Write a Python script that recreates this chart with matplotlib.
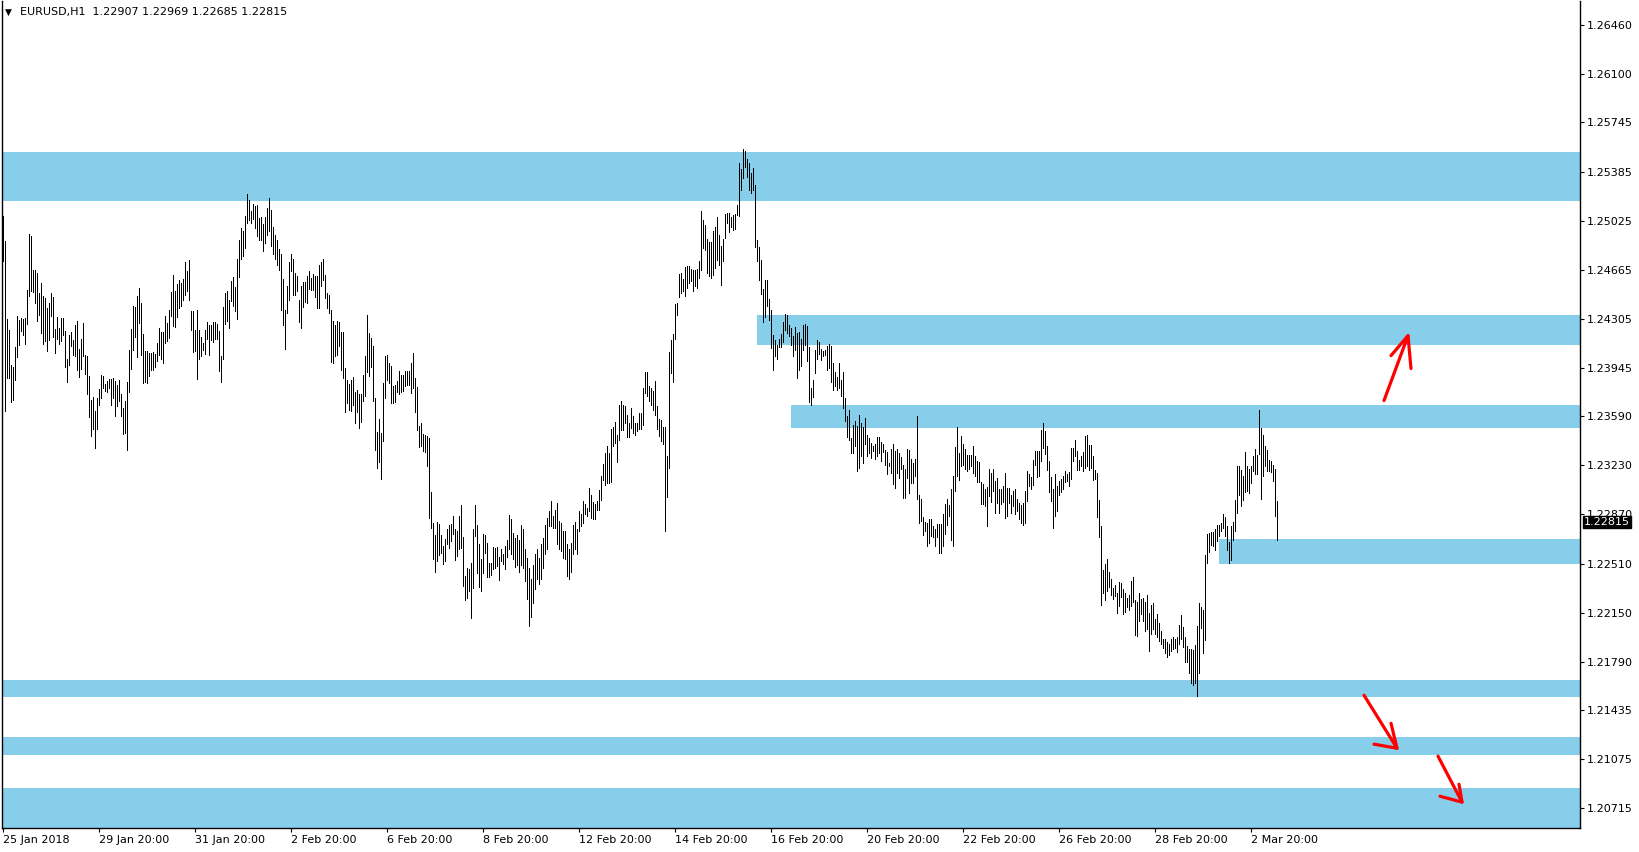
import numpy as np
import matplotlib
matplotlib.use("Agg")
import matplotlib.pyplot as plt
import matplotlib.transforms as mtrans

# EURUSD H1 bars, highs / lows in pips (price * 10000)
# bar 0 = 25 Jan 2018 20:00, one bar per hour (trading hours only)
high_pips = [
    12506.1, 12487.3, 12430.6, 12422.1, 12396.9, 12395.0, 12410.1, 12432.8, 12429.4, 12431.4,  # 0
    12430.4, 12431.1, 12451.9, 12492.9, 12490.9, 12466.5, 12466.5, 12464.3, 12449.7, 12457.0,  # 10
    12447.0, 12445.8, 12438.4, 12441.9, 12449.7, 12446.7, 12422.8, 12431.9, 12423.8, 12430.9,  # 20
    12431.1, 12421.8, 12401.3, 12418.9, 12421.1, 12415.2, 12426.2, 12428.7, 12408.7, 12416.0,  # 30
    12427.7, 12404.3, 12403.5, 12388.9, 12370.6, 12373.5, 12363.2, 12372.5, 12379.3, 12389.4,  # 40
    12388.6, 12382.8, 12384.7, 12386.2, 12386.7, 12387.2, 12384.7, 12382.3, 12385.9, 12375.7,  # 50
    12364.9, 12370.1, 12384.5, 12407.4, 12423.3, 12440.2, 12439.2, 12447.0, 12453.3, 12441.9,  # 60
    12419.6, 12407.2, 12406.7, 12405.5, 12405.5, 12406.0, 12404.7, 12412.6, 12423.8, 12420.9,  # 70
    12420.6, 12432.8, 12427.2, 12437.0, 12449.9, 12462.4, 12450.7, 12455.8, 12459.2, 12456.5,  # 80
    12459.9, 12472.4, 12465.3, 12473.6, 12436.2, 12436.0, 12422.6, 12437.0, 12422.3, 12417.4,  # 90
    12412.8, 12422.1, 12428.2, 12426.2, 12426.2, 12428.2, 12427.9, 12426.7, 12421.4, 12403.5,  # 100
    12438.9, 12449.7, 12450.7, 12444.6, 12458.5, 12461.4, 12453.6, 12474.1, 12488.5, 12497.1,  # 110
    12494.6, 12505.6, 12522.2, 12517.8, 12509.3, 12514.9, 12512.9, 12514.1, 12504.4, 12505.0,  # 120
    12500.0, 12505.0, 12512.0, 12519.0, 12510.0, 12498.0, 12492.0, 12488.0, 12482.0, 12478.0,  # 130
    12459.9, 12437.2, 12454.3, 12472.0, 12478.0, 12474.0, 12464.1, 12462.1, 12444.5, 12454.3,  # 140
    12457.5, 12457.5, 12462.1, 12465.8, 12460.4, 12463.6, 12462.1, 12462.1, 12470.0, 12472.0,  # 150
    12474.0, 12462.8, 12449.4, 12448.2, 12437.2, 12429.1, 12426.2, 12429.1, 12428.2, 12421.1,  # 160
    12420.6, 12394.7, 12385.9, 12383.0, 12385.9, 12387.6, 12377.1, 12378.6, 12375.7, 12375.7,  # 170
    12389.6, 12403.5, 12433.5, 12420.1, 12416.4, 12410.8, 12372.5, 12347.3, 12357.3, 12346.4,  # 180
    12383.5, 12403.5, 12404.2, 12398.1, 12395.7, 12381.5, 12382.3, 12385.2, 12392.5, 12389.6,  # 190
    12389.6, 12392.0, 12392.0, 12392.5, 12398.1, 12405.4, 12387.4, 12380.8, 12352.2, 12354.2,  # 200
    12345.9, 12345.1, 12344.4, 12343.4, 12303.6, 12280.9, 12271.9, 12281.6, 12279.7, 12271.9,  # 210
    12263.8, 12269.2, 12276.0, 12279.4, 12279.7, 12285.8, 12276.0, 12275.0, 12285.8, 12294.1,  # 220
    12270.4, 12241.8, 12247.5, 12246.7, 12251.1, 12276.0, 12294.1, 12279.0, 12265.5, 12254.5,  # 230
    12272.4, 12271.9, 12265.8, 12251.6, 12251.6, 12263.3, 12262.3, 12263.1, 12255.8, 12261.9,  # 240
    12257.7, 12263.8, 12268.0, 12286.8, 12283.3, 12273.6, 12269.7, 12272.0, 12268.0, 12279.0,  # 250
    12276.0, 12262.0, 12255.0, 12248.0, 12240.0, 12250.0, 12258.0, 12262.0, 12255.0, 12265.0,  # 260
    12270.0, 12279.6, 12284.5, 12289.4, 12296.7, 12286.2, 12290.6, 12295.5, 12282.1, 12280.9,  # 270
    12274.8, 12274.8, 12265.0, 12262.0, 12266.0, 12279.6, 12281.6, 12276.5, 12289.4, 12287.0,  # 280
    12296.7, 12294.3, 12291.9, 12306.5, 12300.9, 12296.0, 12294.3, 12296.7, 12304.8, 12315.5,  # 290
    12324.3, 12331.7, 12337.0, 12331.7, 12350.0, 12351.0, 12355.1, 12345.6, 12367.1, 12370.5,  # 300
    12367.1, 12366.3, 12360.2, 12354.1, 12365.1, 12359.0, 12354.1, 12354.1, 12361.5, 12361.5,  # 310
    12380.0, 12391.5, 12391.5, 12381.0, 12379.8, 12377.8, 12385.1, 12366.3, 12357.1, 12356.6,  # 320
    12351.0, 12351.0, 12329.7, 12406.4, 12415.2, 12419.3, 12441.6, 12442.0, 12463.3, 12464.0,  # 330
    12459.9, 12468.4, 12468.9, 12468.9, 12466.9, 12466.5, 12466.5, 12466.9, 12473.1, 12509.7,  # 340
    12503.1, 12499.4, 12489.2, 12486.5, 12486.5, 12494.6, 12497.7, 12505.0, 12491.6, 12484.0,  # 350
    12489.2, 12507.5, 12508.0, 12508.0, 12504.8, 12506.8, 12507.5, 12514.1, 12545.1, 12540.5,  # 360
    12555.1, 12553.6, 12547.8, 12545.1, 12537.3, 12541.2, 12528.7, 12488.4, 12483.5, 12473.8,  # 370
    12452.5, 12459.1, 12459.1, 12445.2, 12437.0, 12418.9, 12415.2, 12411.5, 12415.9, 12419.6,  # 380
    12428.1, 12434.0, 12433.5, 12426.2, 12423.7, 12417.6, 12424.2, 12420.1, 12420.6, 12415.9,  # 390
    12426.2, 12426.7, 12425.5, 12409.8, 12379.8, 12385.9, 12407.9, 12414.7, 12413.2, 12408.4,  # 400
    12406.6, 12407.9, 12410.3, 12412.3, 12410.3, 12398.1, 12391.5, 12387.6, 12398.1, 12385.9,  # 410
    12391.5, 12372.5, 12359.0, 12363.9, 12343.2, 12352.9, 12355.4, 12352.2, 12360.2, 12353.7,  # 420
    12351.2, 12357.6, 12344.9, 12343.2, 12339.5, 12337.1, 12339.0, 12343.9, 12343.9, 12340.0,  # 430
    12338.3, 12334.1, 12332.7, 12324.8, 12335.3, 12339.0, 12333.4, 12335.1, 12332.2, 12329.2,  # 440
    12323.4, 12320.0, 12335.1, 12334.6, 12327.3, 12324.4, 12327.3, 12359.5, 12301.6, 12298.5,  # 450
    12285.0, 12281.6, 12280.4, 12283.8, 12283.3, 12278.4, 12276.0, 12279.7, 12279.7, 12279.7,  # 460
    12287.5, 12294.3, 12298.0, 12293.6, 12306.0, 12315.1, 12336.3, 12351.2, 12331.7, 12344.4,  # 470
    12338.3, 12335.3, 12330.9, 12330.9, 12330.5, 12337.1, 12330.2, 12326.1, 12325.6, 12310.7,  # 480
    12309.5, 12305.8, 12307.3, 12320.0, 12317.5, 12320.0, 12311.4, 12313.9, 12305.8, 12305.3,  # 490
    12307.8, 12317.5, 12306.5, 12306.5, 12300.9, 12304.1, 12305.3, 12298.0, 12295.5, 12293.6,  # 500
    12295.1, 12304.1, 12318.7, 12317.0, 12314.3, 12327.2, 12333.8, 12333.8, 12333.8, 12349.2,  # 510
    12354.1, 12348.0, 12337.0, 12326.5, 12314.3, 12306.0, 12317.0, 12308.2, 12311.4, 12313.3,  # 520
    12315.5, 12319.2, 12317.0, 12318.0, 12335.8, 12335.8, 12341.9, 12333.8, 12327.2, 12329.7,  # 530
    12332.9, 12344.3, 12345.6, 12338.2, 12337.7, 12330.2, 12319.9, 12317.5, 12297.9, 12278.4,  # 540
    12246.2, 12250.3, 12254.0, 12244.7, 12239.3, 12232.7, 12235.2, 12229.1, 12237.4, 12236.9,  # 550
    12232.5, 12229.1, 12225.4, 12227.9, 12238.1, 12241.0, 12224.2, 12222.7, 12229.1, 12225.2,  # 560
    12225.7, 12222.7, 12227.6, 12214.4, 12220.3, 12221.7, 12210.0, 12213.7, 12207.1, 12201.5,  # 570
    12195.4, 12195.4, 12193.4, 12191.7, 12195.9, 12197.3, 12195.9, 12197.3, 12205.6, 12212.9,  # 580
    12204.7, 12197.1, 12190.2, 12188.5, 12188.1, 12187.6, 12191.2, 12205.1, 12221.7, 12219.3,  # 590
    12216.6, 12257.6, 12272.3, 12273.5, 12274.0, 12274.0, 12276.4, 12279.6, 12278.9, 12280.8,  # 600
    12287.0, 12285.2, 12278.4, 12266.9, 12278.4, 12281.3, 12297.5, 12322.4, 12322.4, 12319.9,  # 610
    12315.0, 12332.6, 12322.4, 12320.4, 12322.8, 12330.2, 12335.1, 12330.9, 12363.9, 12350.4,  # 620
    12345.6, 12337.0, 12334.6, 12327.2, 12326.5, 12323.6, 12320.6, 12296.9,                    # 630
]

low_pips = [
    12472.6, 12362.7, 12387.2, 12387.2, 12369.3, 12371.3, 12385.5, 12402.3, 12411.1, 12421.4,  # 0
    12418.9, 12411.8, 12426.7, 12447.0, 12450.7, 12450.2, 12442.1, 12428.7, 12433.1, 12419.9,  # 10
    12411.8, 12414.0, 12406.7, 12415.2, 12432.3, 12417.0, 12405.2, 12416.0, 12412.1, 12414.0,  # 20
    12418.9, 12395.0, 12384.0, 12396.4, 12410.4, 12404.3, 12403.0, 12392.8, 12387.7, 12394.0,  # 30
    12403.0, 12390.1, 12375.7, 12358.3, 12344.4, 12349.3, 12335.9, 12349.3, 12367.6, 12372.5,  # 40
    12379.8, 12377.4, 12376.9, 12379.8, 12367.6, 12372.5, 12359.1, 12366.4, 12370.1, 12359.1,  # 50
    12346.1, 12346.6, 12334.2, 12376.9, 12393.8, 12407.7, 12417.2, 12402.3, 12427.5, 12404.3,  # 60
    12383.5, 12384.2, 12383.5, 12388.4, 12393.3, 12392.8, 12395.0, 12399.4, 12404.3, 12401.1,  # 70
    12398.2, 12412.8, 12414.0, 12416.5, 12432.3, 12425.5, 12424.5, 12431.9, 12438.4, 12439.7,  # 80
    12444.6, 12448.2, 12451.1, 12444.1, 12422.6, 12406.2, 12406.7, 12386.4, 12401.3, 12403.0,  # 90
    12407.9, 12404.7, 12415.7, 12404.3, 12415.2, 12413.5, 12415.7, 12416.0, 12392.0, 12384.2,  # 100
    12401.1, 12427.0, 12428.7, 12423.8, 12443.3, 12439.7, 12436.0, 12430.1, 12461.2, 12474.6,  # 110
    12476.3, 12482.4, 12500.7, 12503.2, 12500.7, 12503.9, 12497.1, 12490.9, 12488.5, 12488.0,  # 120
    12480.0, 12486.0, 12492.0, 12495.0, 12484.0, 12478.0, 12474.0, 12470.0, 12466.0, 12436.7,  # 130
    12425.7, 12408.4, 12434.8, 12444.0, 12465.3, 12447.7, 12447.7, 12450.6, 12427.9, 12423.5,  # 140
    12438.9, 12443.1, 12442.1, 12452.6, 12451.8, 12451.8, 12446.2, 12438.2, 12438.2, 12454.3,  # 150
    12459.2, 12445.7, 12438.2, 12434.8, 12398.6, 12398.1, 12403.0, 12404.2, 12410.3, 12393.2,  # 160
    12387.1, 12362.0, 12368.8, 12363.9, 12362.7, 12367.6, 12354.2, 12362.0, 12350.3, 12354.7,  # 170
    12370.0, 12374.2, 12391.3, 12388.8, 12395.2, 12370.0, 12334.1, 12321.0, 12325.6, 12312.9,  # 180
    12340.7, 12372.5, 12385.4, 12383.5, 12368.8, 12368.8, 12369.3, 12376.6, 12375.4, 12376.6,  # 190
    12377.4, 12381.5, 12382.3, 12381.8, 12376.1, 12379.8, 12362.0, 12348.8, 12336.3, 12337.1,  # 200
    12333.4, 12332.7, 12322.4, 12284.6, 12277.2, 12254.5, 12244.8, 12252.8, 12257.5, 12258.9,  # 210
    12250.6, 12252.8, 12265.0, 12262.6, 12267.5, 12272.4, 12253.6, 12256.5, 12261.9, 12262.6,  # 220
    12234.5, 12224.3, 12226.0, 12230.8, 12211.3, 12233.3, 12271.1, 12244.3, 12234.0, 12230.8,  # 230
    12243.8, 12258.9, 12241.3, 12241.3, 12242.3, 12246.7, 12247.9, 12249.2, 12238.9, 12252.8,  # 240
    12250.4, 12247.2, 12256.0, 12261.9, 12257.7, 12254.0, 12248.7, 12250.0, 12245.0, 12250.0,  # 250
    12248.0, 12238.0, 12225.0, 12205.0, 12212.0, 12222.0, 12232.0, 12240.0, 12236.0, 12240.0,  # 260
    12248.0, 12258.0, 12262.0, 12278.4, 12278.4, 12277.2, 12277.2, 12265.0, 12262.0, 12260.0,  # 270
    12255.0, 12254.0, 12242.0, 12240.0, 12245.0, 12258.0, 12262.0, 12258.0, 12274.8, 12278.4,  # 280
    12280.9, 12287.0, 12285.8, 12289.4, 12284.5, 12283.8, 12283.8, 12290.2, 12290.6, 12297.9,  # 290
    12312.1, 12308.5, 12309.7, 12310.2, 12310.7, 12337.0, 12339.5, 12325.3, 12341.4, 12348.8,  # 300
    12349.2, 12354.1, 12343.6, 12343.6, 12350.5, 12346.8, 12345.6, 12348.5, 12350.0, 12350.0,  # 310
    12352.9, 12376.1, 12373.7, 12370.0, 12367.1, 12363.9, 12359.7, 12350.0, 12344.4, 12340.7,  # 320
    12338.7, 12274.8, 12299.7, 12321.2, 12390.8, 12383.9, 12415.7, 12433.0, 12446.2, 12449.4,  # 330
    12450.6, 12446.9, 12453.0, 12456.7, 12457.9, 12450.6, 12454.3, 12453.0, 12460.4, 12466.0,  # 340
    12482.3, 12481.1, 12464.0, 12461.6, 12460.4, 12462.8, 12467.7, 12473.3, 12470.1, 12455.5,  # 350
    12472.6, 12490.1, 12501.1, 12494.5, 12497.7, 12495.8, 12496.3, 12506.3, 12506.0, 12525.1,  # 360
    12533.6, 12542.2, 12534.3, 12525.1, 12522.6, 12525.1, 12483.5, 12472.6, 12458.6, 12448.6,  # 370
    12428.1, 12431.8, 12439.6, 12429.8, 12409.1, 12392.7, 12403.0, 12401.3, 12409.8, 12409.6,  # 380
    12413.2, 12422.5, 12420.1, 12417.6, 12411.5, 12403.0, 12407.9, 12386.9, 12393.2, 12395.7,  # 390
    12407.9, 12411.5, 12399.8, 12369.5, 12367.6, 12373.2, 12390.8, 12401.0, 12405.0, 12400.5,  # 400
    12403.5, 12404.2, 12393.2, 12394.4, 12383.9, 12378.6, 12381.0, 12378.1, 12379.8, 12373.7,  # 410
    12365.1, 12355.4, 12343.9, 12341.9, 12332.2, 12332.2, 12337.1, 12318.7, 12321.2, 12329.7,  # 420
    12324.4, 12339.0, 12329.7, 12331.7, 12328.5, 12333.4, 12327.3, 12329.7, 12332.2, 12326.1,  # 430
    12332.7, 12322.9, 12316.3, 12322.4, 12317.5, 12309.0, 12306.5, 12317.5, 12313.4, 12320.0,  # 440
    12298.7, 12298.7, 12313.4, 12302.9, 12310.2, 12310.2, 12315.1, 12298.0, 12280.9, 12282.1,  # 450
    12271.6, 12274.8, 12263.8, 12266.2, 12271.1, 12270.6, 12263.8, 12270.6, 12258.9, 12258.4,  # 460
    12263.8, 12272.3, 12278.9, 12285.8, 12268.2, 12263.8, 12304.1, 12315.1, 12312.6, 12322.4,  # 470
    12322.9, 12320.4, 12318.7, 12320.4, 12322.4, 12317.5, 12315.1, 12310.7, 12310.7, 12294.3,  # 480
    12295.0, 12293.1, 12278.4, 12300.4, 12296.3, 12304.1, 12288.2, 12295.5, 12288.2, 12294.3,  # 490
    12296.0, 12284.5, 12285.8, 12295.5, 12288.2, 12293.1, 12287.0, 12289.4, 12283.3, 12280.9,  # 500
    12278.9, 12280.4, 12296.8, 12308.2, 12305.8, 12308.9, 12323.1, 12314.3, 12315.0, 12326.0,  # 510
    12335.8, 12331.6, 12319.4, 12303.3, 12296.7, 12277.2, 12285.7, 12289.4, 12300.9, 12303.3,  # 520
    12306.0, 12310.6, 12311.4, 12307.7, 12313.3, 12326.0, 12329.7, 12319.9, 12319.9, 12322.4,  # 530
    12318.7, 12321.1, 12322.8, 12319.4, 12320.7, 12312.1, 12313.1, 12285.2, 12270.6, 12220.5,  # 540
    12229.1, 12224.2, 12230.8, 12233.9, 12227.9, 12224.7, 12227.1, 12214.9, 12219.8, 12226.6,  # 550
    12214.2, 12215.6, 12219.3, 12216.9, 12219.8, 12222.7, 12198.6, 12197.8, 12208.8, 12213.7,  # 560
    12208.8, 12201.5, 12203.2, 12186.8, 12199.0, 12202.7, 12199.0, 12197.3, 12194.2, 12191.7,  # 570
    12189.3, 12185.6, 12182.7, 12183.7, 12186.8, 12188.1, 12189.3, 12186.3, 12192.2, 12195.4,  # 580
    12190.0, 12178.8, 12178.8, 12170.9, 12163.1, 12161.9, 12163.6, 12153.9, 12170.5, 12203.9,  # 590
    12185.6, 12194.9, 12251.5, 12259.4, 12264.5, 12264.2, 12260.8, 12267.4, 12271.1, 12274.7,  # 600
    12277.2, 12271.1, 12260.8, 12251.1, 12253.3, 12268.6, 12274.7, 12288.2, 12301.6, 12293.1,  # 610
    12297.9, 12303.3, 12304.1, 12302.8, 12310.2, 12318.7, 12317.0, 12316.3, 12331.6, 12298.4,  # 620
    12315.0, 12322.4, 12318.7, 12318.7, 12317.9, 12311.4, 12285.7, 12268.5,                    # 630
]

time_labels = ["25 Jan 2018", "29 Jan 20:00", "31 Jan 20:00", "2 Feb 20:00", "6 Feb 20:00",
               "8 Feb 20:00", "12 Feb 20:00", "14 Feb 20:00", "16 Feb 20:00", "20 Feb 20:00",
               "22 Feb 20:00", "26 Feb 20:00", "28 Feb 20:00", "2 Mar 20:00"]
bars_per_label = 48

price_ticks = [1.26460, 1.26100, 1.25745, 1.25385, 1.25025, 1.24665, 1.24305, 1.23945, 1.23590,
               1.23230, 1.22870, 1.22510, 1.22150, 1.21790, 1.21435, 1.21075, 1.20715]

header = "EURUSD,H1  1.22907 1.22969 1.22685 1.22815"
last_price = 1.22815

# supply / demand zones drawn on the chart (bar where they start, None = whole chart)
zone_low = [1.25170, 1.24115, 1.23507, 1.22503, 1.21529, 1.21104, 1.20500]
zone_high = [1.25530, 1.24335, 1.23676, 1.22687, 1.21653, 1.21236, 1.20862]
zone_start = [None, 377, 394, 608, None, None, None]

# hand drawn red arrows (bar index, price): shaft then the two barbs
arrows = [
    {"shaft": ([690.5, 702.5], [1.23705, 1.24181]),
     "barbs": ([694.0, 702.5, 704.0], [1.24035, 1.24181, 1.23940])},
    {"shaft": ([680.5, 697.0], [1.21544, 1.21155]),
     "barbs": ([685.5, 697.0, 694.0], [1.21185, 1.21155, 1.21338])},
    {"shaft": ([717.5, 729.5], [1.21097, 1.20760]),
     "barbs": ([718.5, 729.5, 728.0], [1.20803, 1.20760, 1.20891])},
]

high = np.array(high_pips) / 10000.0
low = np.array(low_pips) / 10000.0
idx = np.arange(len(high))

W, H = 1640, 852
fig = plt.figure(figsize=(W / 100, H / 100), dpi=100)
ax = fig.add_axes([2 / W, 24 / H, 1578 / W, 827 / H])
x0, x1 = -0.5, 788.5
ax.set_xlim(x0, x1)
ax.set_ylim(1.20570, 1.26636)

zone_color = "#87CEEB"
for lo, hi, st in zip(zone_low, zone_high, zone_start):
    start = x0 if st is None else st
    ax.fill_between([start, x1], lo, hi, color=zone_color, linewidth=0, zorder=1)

# thin 1px bars like the terminal draws them
ax.vlines(idx, low, high, colors="black", linewidth=0.5, antialiased=False, zorder=2)

for a in arrows:
    ax.plot(*a["shaft"], color="red", lw=2.3, solid_capstyle="round", clip_on=False, zorder=4)
    ax.plot(*a["barbs"], color="red", lw=2.3, solid_capstyle="round",
            solid_joinstyle="round", clip_on=False, zorder=4)

# axes look like MT4: price scale on the right, dates at the bottom
ax.spines["top"].set_visible(False)
for side in ["left", "right", "bottom"]:
    ax.spines[side].set_linewidth(1.0)

ax.yaxis.tick_right()
ax.set_yticks(price_ticks)
ax.set_yticklabels(["%.5f" % p for p in price_ticks])
ax.tick_params(axis="y", direction="out", length=3, width=0.8, pad=2, labelsize=8)

ax.set_xticks([i * bars_per_label for i in range(len(time_labels))])
ax.set_xticklabels(time_labels, ha="left")
ax.tick_params(axis="x", direction="out", length=3, width=0.8, pad=2, labelsize=8)

trans = mtrans.blended_transform_factory(ax.transAxes, ax.transData)
ax.annotate("%.5f" % last_price, xy=(1, last_price), xycoords=trans,
            xytext=(3, 0), textcoords="offset points", ha="left", va="center",
            color="white", fontsize=8, zorder=5, annotation_clip=False,
            bbox=dict(boxstyle="square,pad=0.1", facecolor="black", edgecolor="black"))

fig.text(5 / W, 1 - 12 / H, "\u25bc", fontsize=6.5, va="center", ha="left")
fig.text(20 / W, 1 - 12 / H, header, fontsize=8, va="center", ha="left")

fig.savefig("out.png", dpi=100)
